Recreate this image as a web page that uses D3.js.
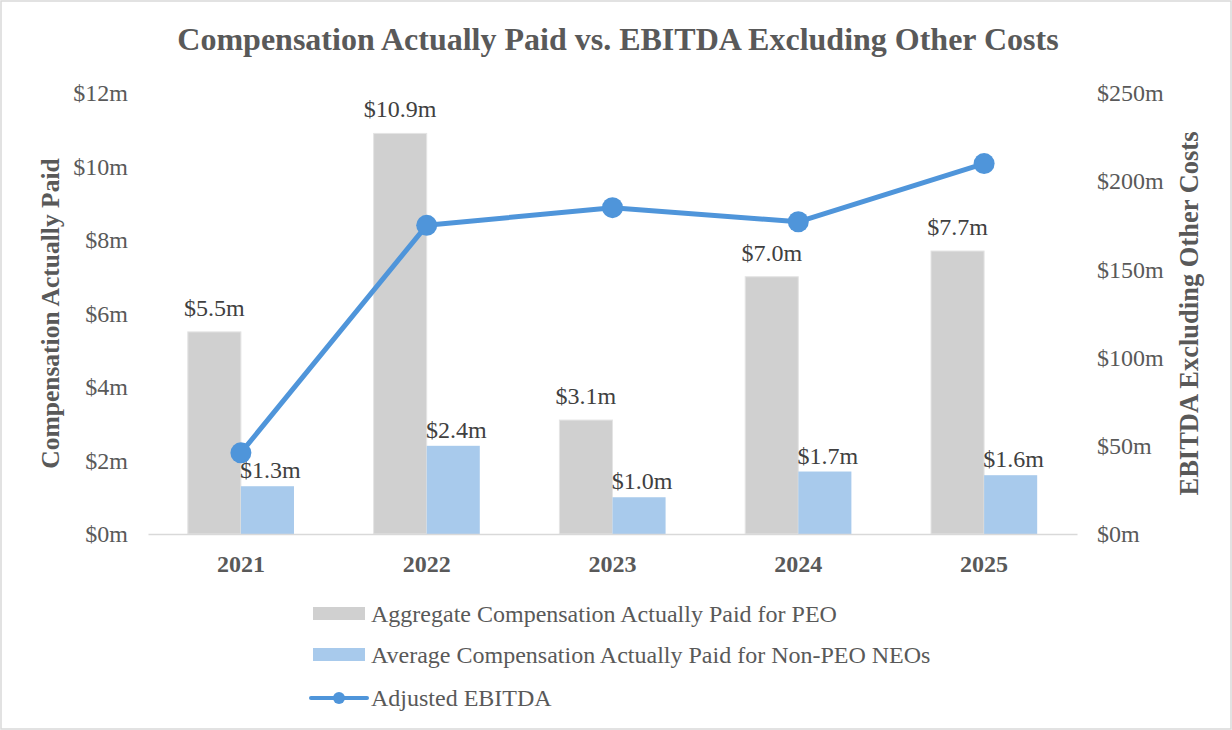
<!DOCTYPE html>
<html>
<head>
<meta charset="utf-8">
<script src="https://cdn.jsdelivr.net/npm/d3@7"></script>
<style>
  body { margin: 0; background: #fff; }
  svg text { font-family: "Liberation Serif", "Times New Roman", serif; }
</style>
</head>
<body>
<svg id="chart" width="1232" height="730"></svg>
<script>
// chart data
var years = ["2021", "2022", "2023", "2024", "2025"];
var peoPay = [5.5, 10.9, 3.1, 7.0, 7.7];        // $m, left axis
var neoPay = [1.3, 2.4, 1.0, 1.7, 1.6];         // $m, left axis
var ebitda = [46, 175, 185, 177, 210];          // $m, right axis
var leftTicks = [0, 2, 4, 6, 8, 10, 12];
var rightTicks = [0, 50, 100, 150, 200, 250];
var seriesNames = [
    "Aggregate Compensation Actually Paid for PEO",
    "Average Compensation Actually Paid for Non-PEO NEOs",
    "Adjusted EBITDA"
];

var w = 1232, h = 730;
var plotLeft = 148, plotRight = 1077, plotTop = 93, plotBottom = 534;
var greyColor = "#d0d0d0", blueColor = "#a8caec", lineColor = "#4f95da";
var textColor = "#595959", labelColor = "#404040";

var svg = d3.select("#chart");

// chart border
svg.append("rect")
    .attr("x", 1).attr("y", 1)
    .attr("width", w - 2).attr("height", h - 2)
    .attr("fill", "#fff")
    .attr("stroke", "#d9d9d9")
    .attr("stroke-width", 1.5);

// scales
var xScale = d3.scaleBand().domain(years).range([plotLeft, plotRight]);
var yLeft = d3.scaleLinear().domain([0, 12]).range([plotBottom, plotTop]);
var yRight = d3.scaleLinear().domain([0, 250]).range([plotBottom, plotTop]);
// gap width 150% -> each bar is band / 3.5
var barW = xScale.bandwidth() / 3.5;

// title
svg.append("text")
    .attr("x", 618).attr("y", 50)
    .attr("text-anchor", "middle")
    .attr("font-size", 32)
    .attr("font-weight", "bold")
    .attr("fill", textColor)
    .text("Compensation Actually Paid vs. EBITDA Excluding Other Costs");

// left axis
var yAxisLeft = svg.append("g")
    .attr("transform", `translate(${plotLeft - 20},0)`)
    .call(d3.axisLeft(yLeft).tickValues(leftTicks).tickSize(0).tickPadding(0).tickFormat(d => "$" + d + "m"));
yAxisLeft.select(".domain").remove();
yAxisLeft.selectAll("text")
    .attr("font-size", 24)
    .attr("fill", textColor)
    .attr("font-family", "Liberation Serif");

// right axis
var yAxisRight = svg.append("g")
    .attr("transform", `translate(${plotRight + 20},0)`)
    .call(d3.axisRight(yRight).tickValues(rightTicks).tickSize(0).tickPadding(0).tickFormat(d => "$" + d + "m"));
yAxisRight.select(".domain").remove();
yAxisRight.selectAll("text")
    .attr("font-size", 24)
    .attr("fill", textColor)
    .attr("font-family", "Liberation Serif");

// axis titles
svg.append("text")
    .attr("transform", `translate(59,${(plotTop + plotBottom) / 2}) rotate(-90)`)
    .attr("text-anchor", "middle")
    .attr("font-size", 25.5)
    .attr("font-weight", "bold")
    .attr("fill", textColor)
    .text("Compensation Actually Paid");

svg.append("text")
    .attr("transform", `translate(1198,${(plotTop + plotBottom) / 2}) rotate(-90)`)
    .attr("text-anchor", "middle")
    .attr("font-size", 26.5)
    .attr("font-weight", "bold")
    .attr("fill", textColor)
    .text("EBITDA Excluding Other Costs");

// bars
var groups = svg.selectAll(".year")
    .data(years)
    .enter().append("g")
    .attr("class", "year");

groups.append("rect")
    .attr("x", d => xScale(d) + xScale.bandwidth() / 2 - barW)
    .attr("y", (d, i) => yLeft(peoPay[i]))
    .attr("width", barW)
    .attr("height", (d, i) => plotBottom - yLeft(peoPay[i]))
    .attr("fill", greyColor)
    .attr("stroke", "#e4e4e4")
    .attr("stroke-width", 1);

groups.append("rect")
    .attr("x", d => xScale(d) + xScale.bandwidth() / 2)
    .attr("y", (d, i) => yLeft(neoPay[i]))
    .attr("width", barW)
    .attr("height", (d, i) => plotBottom - yLeft(neoPay[i]))
    .attr("fill", blueColor);

// x axis baseline + labels
var xAxis = svg.append("g")
    .attr("transform", `translate(0,${plotBottom})`)
    .call(d3.axisBottom(xScale).tickSize(0).tickPadding(0));
xAxis.select(".domain").attr("stroke", "#d9d9d9").attr("stroke-width", 1.5);
xAxis.selectAll("text")
    .attr("y", 38)
    .attr("dy", null)
    .attr("font-size", 24)
    .attr("font-weight", "bold")
    .attr("fill", textColor)
    .attr("font-family", "Liberation Serif");

// data labels
groups.append("text")
    .attr("x", d => xScale(d) + xScale.bandwidth() / 2 - barW / 2)
    .attr("y", (d, i) => yLeft(peoPay[i]) - 16)
    .attr("text-anchor", "middle")
    .attr("font-size", 24)
    .attr("fill", labelColor)
    .text((d, i) => "$" + peoPay[i].toFixed(1) + "m");

groups.append("text")
    .attr("x", d => xScale(d) + xScale.bandwidth() / 2 + barW / 2 + 3)
    .attr("y", (d, i) => yLeft(neoPay[i]) - 8)
    .attr("text-anchor", "middle")
    .attr("font-size", 24)
    .attr("fill", labelColor)
    .text((d, i) => "$" + neoPay[i].toFixed(1) + "m");

// EBITDA line
var line = d3.line()
    .x((d, i) => xScale(years[i]) + xScale.bandwidth() / 2)
    .y(d => yRight(d));

svg.append("path")
    .datum(ebitda)
    .attr("d", line)
    .attr("fill", "none")
    .attr("stroke", lineColor)
    .attr("stroke-width", 5)
    .attr("stroke-linejoin", "round");

svg.selectAll(".dot")
    .data(ebitda)
    .enter().append("circle")
    .attr("class", "dot")
    .attr("cx", (d, i) => xScale(years[i]) + xScale.bandwidth() / 2)
    .attr("cy", d => yRight(d))
    .attr("r", 10.5)
    .attr("fill", lineColor);

// legend
var legend = svg.append("g").attr("transform", "translate(313,0)");
var rowY = [622, 663, 706];

legend.append("rect").attr("x", 0).attr("y", rowY[0] - 15).attr("width", 52).attr("height", 13).attr("fill", greyColor);
legend.append("rect").attr("x", 0).attr("y", rowY[1] - 15).attr("width", 52).attr("height", 13).attr("fill", blueColor);
legend.append("line")
    .attr("x1", -2).attr("x2", 54)
    .attr("y1", rowY[2] - 8).attr("y2", rowY[2] - 8)
    .attr("stroke", lineColor).attr("stroke-width", 4).attr("stroke-linecap", "round");
legend.append("circle").attr("cx", 26).attr("cy", rowY[2] - 8).attr("r", 6).attr("fill", lineColor);

legend.selectAll(".legend-text")
    .data(seriesNames)
    .enter().append("text")
    .attr("class", "legend-text")
    .attr("x", 58)
    .attr("y", (d, i) => rowY[i])
    .attr("font-size", 24)
    .attr("fill", textColor)
    .text(d => d);
</script>
</body>
</html>
